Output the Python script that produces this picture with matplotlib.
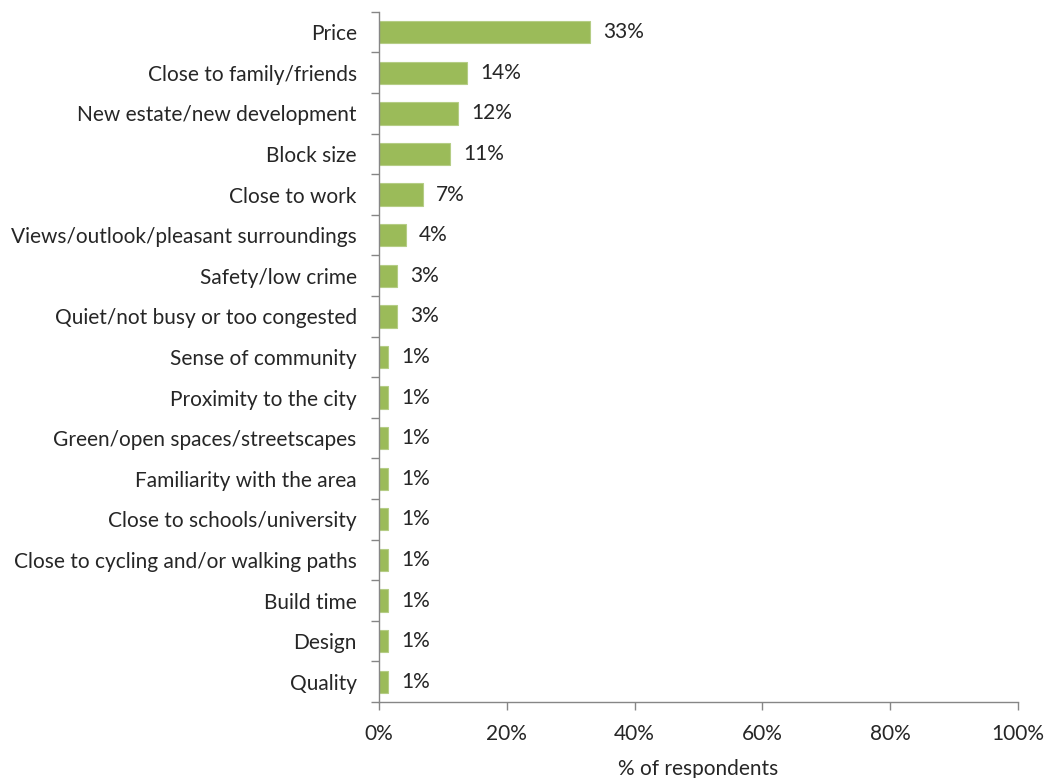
import numpy as np
import matplotlib.pyplot as plt

plt.rcParams['font.family'] = ['Lato', 'DejaVu Sans']

# Reasons for choosing the area, share of respondents
reasons = [
    'Price',
    'Close to family/friends',
    'New estate/new development',
    'Block size',
    'Close to work',
    'Views/outlook/pleasant surroundings',
    'Safety/low crime',
    'Quiet/not busy or too congested',
    'Sense of community',
    'Proximity to the city',
    'Green/open spaces/streetscapes',
    'Familiarity with the area',
    'Close to schools/university',
    'Close to cycling and/or walking paths',
    'Build time',
    'Design',
    'Quality',
]
share = [33.0, 13.8, 12.4, 11.1, 6.9, 4.2, 2.8, 2.8,
         1.4, 1.4, 1.4, 1.4, 1.4, 1.4, 1.4, 1.4, 1.4]
xticks = [0, 20, 40, 60, 80, 100]

bar_color = '#9BBB59'
axis_color = '#868686'
text_color = '#262626'
fs = 15

fig = plt.figure(figsize=(10.44, 7.78), dpi=100)
ax = fig.add_axes([0.363, 0.0977, 0.612, 0.887])

y = np.arange(len(reasons))
ax.barh(y, share, height=0.55, color=bar_color, edgecolor='#B5CD85', linewidth=0.8)

for yi, v in zip(y, share):
    ax.annotate(f'{v:.0f}%', xy=(v, yi), xytext=(9.5, 0), textcoords='offset points',
                va='center', ha='left', fontsize=fs, color=text_color)

ax.set_xlim(0, 100)
ax.set_ylim(len(reasons) - 0.5, -0.5)
ax.set_xticks(xticks)
ax.set_xticklabels([f'{t}%' for t in xticks], fontsize=fs, color=text_color)
ax.set_yticks(y)
ax.set_yticklabels(reasons, fontsize=fs, color=text_color)

# category boundary ticks on the value axis
ax.set_yticks(np.arange(len(reasons) + 1) - 0.5, minor=True)
ax.tick_params(axis='y', which='major', length=0, pad=16)
ax.tick_params(axis='y', which='minor', length=6, color=axis_color, width=1)
ax.tick_params(axis='x', length=6, color=axis_color, width=1, pad=10)

for side in ['top', 'right']:
    ax.spines[side].set_visible(False)
for side in ['left', 'bottom']:
    ax.spines[side].set_color(axis_color)
    ax.spines[side].set_linewidth(1)

ax.set_xlabel('% of respondents', fontsize=fs, color=text_color, labelpad=11)

fig.savefig('out.png', dpi=100)
